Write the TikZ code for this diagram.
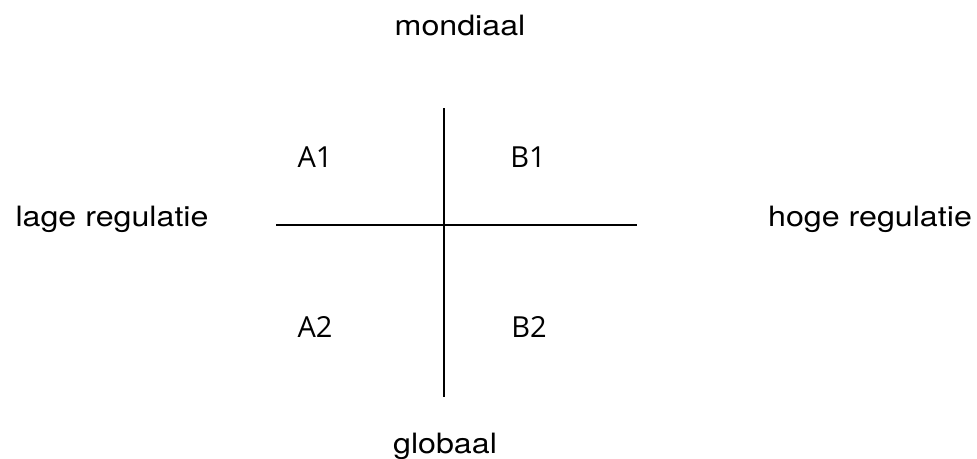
\documentclass[tikz,border=0pt]{standalone}
\usepackage{fontspec}
\setmainfont{TeX Gyre Heros}[FakeStretch=1.15]
\newfontfamily\cellfont{Open Sans}
\tikzset{
  axis/.style={line width=2.2pt},
  pole/.style={font=\fontsize{28}{30}\selectfont, anchor=base, inner sep=0pt},
  cell/.style={font=\cellfont\fontsize{29}{32}\selectfont, anchor=base, inner sep=0pt},
}

\begin{document}
\begin{tikzpicture}[x=1pt, y=-1pt]
  \useasboundingbox (0,0) rectangle (977,458);

  % Axes
  \coordinate (top) at (444,108);
  \coordinate (bottom) at (444,397);
  \coordinate (left) at (276,225);
  \coordinate (right) at (637,225);
  \draw[axis] (top) -- (bottom);
  \draw[axis] (left) -- (right);

  % Poles
  \node[pole] (mondiaal) at (460,35) {mondiaal};
  \node[pole] (globaal) at (445,453) {globaal};
  \node[pole] (laag) at (112,226) {lage regulatie};
  \node[pole] (hoog) at (870,226) {hoge regulatie};

  % Quadrants
  \node[cell] (A1) at (315,167) {A1};
  \node[cell] (B1) at (528,167) {B1};
  \node[cell] (A2) at (315,337) {A2};
  \node[cell] (B2) at (529,337) {B2};

\end{tikzpicture}
\end{document}
